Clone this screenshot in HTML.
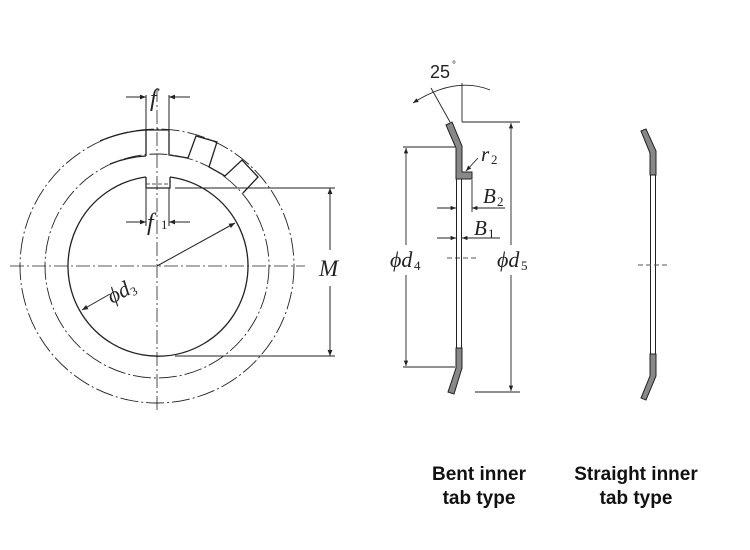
<!DOCTYPE html>
<html><head><style>
html,body{margin:0;padding:0;background:#fff;}
svg{display:block}
.t{font-family:"Liberation Serif",serif;font-style:italic;fill:#222}
.b{font-family:"Liberation Sans",sans-serif;font-weight:bold;font-size:19px;fill:#111;text-anchor:middle}
</style></head><body>
<svg width="750" height="550" viewBox="0 0 750 550" xmlns="http://www.w3.org/2000/svg">
<defs>
<marker id="a" viewBox="0 0 10 10" refX="10" refY="5" markerWidth="8" markerHeight="6" orient="auto-start-reverse"><path d="M0,1 L10,5 L0,9 z" fill="#222"/></marker>
</defs>
<g fill="none" stroke="#222" stroke-width="1">
<line x1="10" y1="266" x2="305" y2="266" stroke-dasharray="14,3,2,3" stroke-width="0.8"/>
<line x1="157" y1="88" x2="157" y2="412" stroke-dasharray="14,3,2,3" stroke-width="0.8"/>
<circle cx="157" cy="266" r="137" stroke-dasharray="18,3,2,3" stroke-width="0.9"/>
<circle cx="157" cy="266" r="112" stroke-dasharray="18,3,2,3" stroke-width="0.9"/>
<g stroke-width="1.3">
<path d="M146,130 L169,130 L169,155 L188,158 L196,136 L217,142 L209,167 L225,176 L242,160 L258,177 L243,193"/>
<path d="M146,130 L146,156"/>
<path d="M146,130 A137,137 0 0 0 100,141"/>
<path d="M146,156 A112,112 0 0 0 110,164"/>
<path d="M146,188 L146,177 M146,188 L170,188 L170,177"/>
<path d="M170,177 A90,90 0 1 1 146,177"/>
</g>
<line x1="146" y1="184" x2="170" y2="184" stroke-dasharray="4,2" stroke-width="0.8"/>
<line x1="146" y1="95" x2="146" y2="130"/><line x1="169" y1="95" x2="169" y2="130"/>
<line x1="126" y1="97" x2="146" y2="97" marker-end="url(#a)"/>
<line x1="190" y1="97" x2="169" y2="97" marker-end="url(#a)"/>
<line x1="146" y1="188" x2="146" y2="226"/><line x1="169" y1="188" x2="169" y2="226"/>
<line x1="126" y1="222" x2="146" y2="222" marker-end="url(#a)"/>
<line x1="190" y1="222" x2="169" y2="222" marker-end="url(#a)"/>
<line x1="175" y1="188" x2="335" y2="188"/>
<line x1="175" y1="356" x2="335" y2="356"/>
<line x1="330" y1="250" x2="330" y2="188" marker-end="url(#a)"/>
<line x1="330" y1="286" x2="330" y2="356" marker-end="url(#a)"/>
<line x1="157" y1="266" x2="235" y2="223" marker-end="url(#a)"/>
<line x1="110" y1="294" x2="82" y2="310" marker-end="url(#a)"/>
</g>
<text class="t" x="150" y="106" font-size="24">f</text>
<text class="t" x="147" y="230" font-size="24">f</text>
<text class="t" x="161" y="229" font-size="13" style="font-style:normal">1</text>
<text class="t" x="319" y="276" font-size="23">M</text>
<text class="t" x="0" y="0" font-size="22" transform="translate(112,304) rotate(-28)">ϕd<tspan font-size="12" dy="3" style="font-style:normal">3</tspan></text>

<g fill="none" stroke="#222" stroke-width="0.9">
<line x1="462" y1="83" x2="462" y2="122"/>
<line x1="450" y1="122" x2="431" y2="88"/>
<path d="M413,103 Q455,76 490,90" marker-start="url(#a)"/>
<line x1="462" y1="122" x2="520" y2="122"/>
<line x1="475" y1="392" x2="520" y2="392"/>
<line x1="511" y1="245" x2="511" y2="123" marker-end="url(#a)"/>
<line x1="511" y1="275" x2="511" y2="391" marker-end="url(#a)"/>
<line x1="403" y1="147" x2="455" y2="147"/>
<line x1="403" y1="367" x2="455" y2="367"/>
<line x1="406" y1="245" x2="406" y2="148" marker-end="url(#a)"/>
<line x1="406" y1="275" x2="406" y2="366" marker-end="url(#a)"/>
<line x1="472" y1="180" x2="472" y2="212"/>
<line x1="437" y1="208" x2="456" y2="208" marker-end="url(#a)"/>
<line x1="505" y1="208" x2="472" y2="208" marker-end="url(#a)"/>
<line x1="437" y1="238" x2="456" y2="238" marker-end="url(#a)"/>
<line x1="500" y1="238" x2="462" y2="238" marker-end="url(#a)"/>
<line x1="478" y1="158" x2="466" y2="171" marker-end="url(#a)"/>
<line x1="447" y1="258" x2="476" y2="258" stroke-dasharray="5,3" stroke="#555"/>
<path d="M456.5,178 V348 M461.5,178 V348" stroke-width="1"/>
</g>
<path d="M446,125 L452,122 L462,146 L462,172 L472,172 L472,179 L456,179 L456,148 Z" fill="#888" stroke="#222" stroke-width="1"/>
<path d="M456,348 L462,348 L462,368 L454,394 L448,392 L456,368 Z" fill="#888" stroke="#222" stroke-width="1"/>
<text x="430" y="78" font-family="Liberation Sans,sans-serif" font-size="18" fill="#222">25</text>
<text x="452" y="68" font-family="Liberation Sans,sans-serif" font-size="10" fill="#222">°</text>
<text class="t" x="481" y="161" font-size="21">r</text><text class="t" x="491" y="164" font-size="13" style="font-style:normal">2</text>
<text class="t" x="483" y="203" font-size="21">B</text><text class="t" x="497" y="206" font-size="13" style="font-style:normal">2</text>
<text class="t" x="474" y="235" font-size="21">B</text><text class="t" x="488" y="238" font-size="13" style="font-style:normal">1</text>
<text class="t" x="390" y="267" font-size="22">ϕd</text><text class="t" x="414" y="270" font-size="13" style="font-style:normal">4</text>
<text class="t" x="497" y="267" font-size="22">ϕd</text><text class="t" x="521" y="270" font-size="13" style="font-style:normal">5</text>

<g fill="none" stroke="#222">
<path d="M650.5,175 V354 M655.5,175 V354" stroke-width="1"/>
<line x1="638" y1="265" x2="670" y2="265" stroke-dasharray="5,3" stroke="#555" stroke-width="0.9"/>
</g>
<path d="M641,131 L646,129 L656,151 L656,175 L650,175 L650,153 Z" fill="#888" stroke="#222" stroke-width="1"/>
<path d="M650,354 L656,354 L656,376 L646,400 L641,398 L650,376 Z" fill="#888" stroke="#222" stroke-width="1"/>

<text class="b" x="479" y="480">Bent inner</text>
<text class="b" x="479" y="504">tab type</text>
<text class="b" x="636" y="480">Straight inner</text>
<text class="b" x="636" y="504">tab type</text>
</svg>
</body></html>
